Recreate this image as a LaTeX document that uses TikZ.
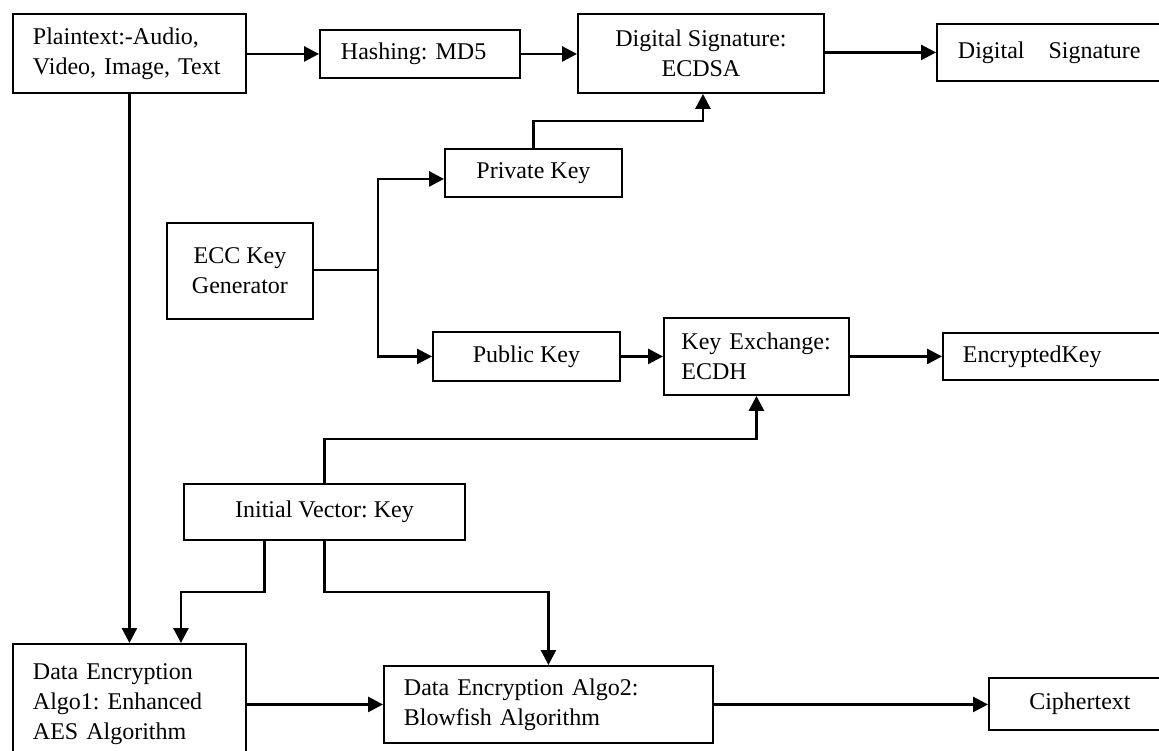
\documentclass[tikz,border=0pt]{standalone}
\usepackage{fontspec}
\setmainfont{Liberation Serif}
\usetikzlibrary{arrows.meta,calc}
\begin{document}
\frenchspacing
\begin{tikzpicture}[x=1pt,y=-1pt,
  box/.style={draw,line width=1.9pt,inner ysep=0pt,anchor=north west,font=\fontsize{24}{30}\selectfont\frenchspacing},
  lbox/.style={box,align=left},
  cbox/.style={box,align=center,inner xsep=0pt},
  arr/.style={line width=2.7pt,-{Triangle[length=15pt,width=15pt]}},
  ln/.style={line width=2.7pt}]
\path[use as bounding box] (0,0) rectangle (1159,751);
\clip (0,0) rectangle (1159,751);

\node[lbox,inner xsep=20pt,text width=193pt,minimum height=79pt] (plain) at (12,13) {Plaintext:-Audio,\\Video, Image, Text};
\node[lbox,inner xsep=21pt,text width=158pt,minimum height=48pt] (hash) at (319,29) {Hashing: MD5};
\node[cbox,minimum width=246pt,minimum height=79pt] (ecdsa) at (577,13) {Digital Signature:\\ECDSA};
\node[lbox,inner xsep=21pt,text width=198pt,minimum height=57pt] (dsig) at (936,23) {Digital\ \ \ Signature};
\node[cbox,minimum width=177pt,minimum height=48pt] (priv) at (444,148) {Private Key};
\node[cbox,minimum width=146pt,minimum height=96pt] (ecc) at (166,222) {ECC Key\\Generator};
\node[cbox,minimum width=187pt,minimum height=49pt] (pub) at (432,331) {Public Key};
\node[lbox,inner xsep=17.5pt,text width=150pt,minimum height=77pt] (kex) at (663,317) {Key Exchange:\\ECDH};
\node[lbox,inner xsep=20pt,text width=190pt,minimum height=47pt] (enc) at (942,332) {EncryptedKey};
\node[cbox,minimum width=281pt,minimum height=56pt] (iv) at (183,483) {Initial Vector: Key};
\node[lbox,inner xsep=20pt,text width=193pt,minimum height=121pt] (de1) at (12,643) {Data Encryption\\Algo1: Enhanced\\AES Algorithm};
\node[lbox,inner xsep=20pt,text width=289pt,minimum height=77pt] (bf) at (383,665) {Data Encryption Algo2:\\Blowfish Algorithm};
\node[cbox,minimum width=182pt,minimum height=52pt] (cipher) at (988,677) {Ciphertext};

\coordinate (j) at (378,270);

\draw[arr] (plain.east |- hash.west) -- (hash.west);
\draw[arr] (hash.east) -- (ecdsa.west |- hash.east);
\draw[arr] (ecdsa.east |- dsig.west) -- (dsig.west);
\draw[arr] (plain.south) -- (de1.north);
\draw[ln] (ecc.east |- j) -- (j);
\draw[arr] (j) |- ([yshift=-6pt]priv.west);
\draw[arr] (j) |- (pub.west);
\draw[arr] (priv.north) -- ++(0,-27) -| ([xshift=2pt]ecdsa.south);
\draw[arr] (pub.east) -- (kex.west |- pub.east);
\draw[arr] (kex.east) -- (enc.west);
\draw[arr] (iv.north) -- ++(0,-44) -| (kex.south);
\draw[arr] ([xshift=-60pt]iv.south) -- ++(0,51) -| ([xshift=51.5pt]de1.north);
\draw[arr] (iv.south) -- ++(0,51) -| (bf.north);
\draw[arr] (de1.east |- bf.west) -- (bf.west);
\draw[arr] (bf.east) -- (cipher.west |- bf.east);
\end{tikzpicture}
\end{document}
